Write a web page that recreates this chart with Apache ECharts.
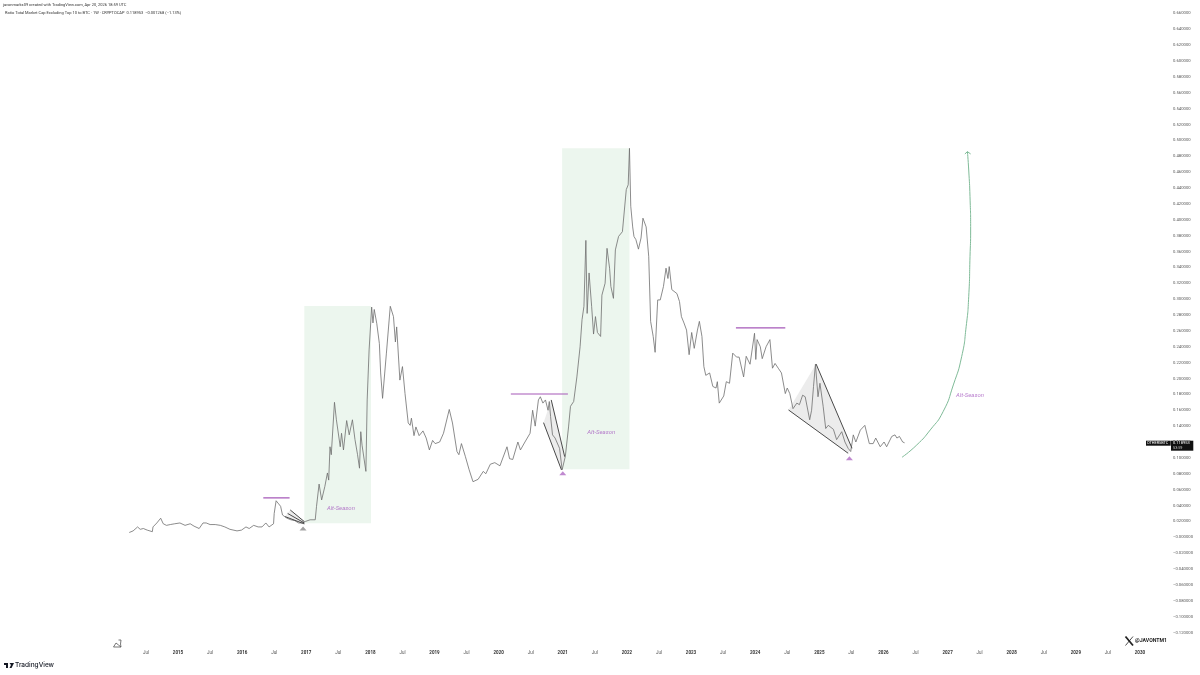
<!DOCTYPE html>
<html>
<head>
<meta charset="utf-8">
<title>Others ratio</title>
<script src="https://cdn.jsdelivr.net/npm/echarts@6/dist/echarts.min.js"></script>
<style>
  html, body { margin: 0; padding: 0; background: #fff; }
  #chart { width: 1200px; height: 675px; }
</style>
</head>
<body>
<div id="chart"></div>
<script>
// weekly ratio (decimal year / value)
const years = [
  2014.24,2014.30,2014.37,2014.41,2014.46,2014.52,2014.60,2014.61,2014.67,2014.73,2014.77,2014.82,2014.88,2014.95,
  2015.03,2015.11,2015.19,2015.25,2015.33,2015.39,2015.44,2015.50,2015.58,2015.66,2015.73,2015.81,2015.92,2015.99,
  2016.06,2016.11,2016.18,2016.25,2016.31,2016.37,2016.42,2016.49,2016.50,2016.53,2016.56,2016.60,2016.63,2016.70,2016.76,2016.82,2016.88,2016.93,2016.99,
  2017.06,2017.14,2017.16,2017.20,2017.24,2017.29,2017.33,2017.35,2017.37,2017.39,2017.44,2017.47,2017.53,2017.55,2017.58,2017.63,2017.67,2017.72,2017.76,2017.80,2017.83,2017.85,2017.87,2017.90,2017.93,2017.95,2017.98,
  2018.02,2018.04,2018.06,2018.10,2018.14,2018.16,2018.19,2018.25,2018.31,2018.36,2018.39,2018.41,2018.46,2018.50,2018.54,2018.59,2018.62,2018.64,2018.68,2018.71,2018.76,2018.82,2018.87,2018.92,2018.97,
  2019.01,2019.08,2019.14,2019.23,2019.28,2019.35,2019.38,2019.42,2019.48,2019.54,2019.57,2019.60,2019.68,2019.76,2019.80,2019.87,2019.94,
  2020.02,2020.13,2020.17,2020.22,2020.30,2020.34,2020.41,2020.49,2020.53,2020.57,2020.62,2020.65,2020.69,2020.73,2020.77,2020.79,2020.81,2020.84,2020.88,2020.95,2020.99,
  2021.04,2021.09,2021.12,2021.17,2021.22,2021.27,2021.30,2021.33,2021.36,2021.38,2021.41,2021.45,2021.48,2021.51,2021.54,2021.59,2021.61,2021.66,2021.69,2021.73,2021.75,2021.79,2021.82,2021.87,2021.93,2021.99,
  2022.02,2022.04,2022.06,2022.09,2022.11,2022.14,2022.18,2022.22,2022.25,2022.30,2022.34,2022.37,2022.41,2022.44,2022.48,2022.52,2022.57,2022.61,2022.64,2022.66,2022.70,2022.78,2022.82,2022.85,2022.89,2022.93,2022.97,
  2023.01,2023.05,2023.10,2023.13,2023.17,2023.20,2023.23,2023.29,2023.34,2023.39,2023.41,2023.44,2023.51,2023.55,2023.60,2023.65,2023.71,2023.75,2023.82,2023.86,2023.89,2023.92,2023.99,
  2024.01,2024.03,2024.08,2024.11,2024.17,2024.23,2024.27,2024.31,2024.36,2024.41,2024.47,2024.50,2024.54,2024.59,2024.62,2024.65,2024.69,2024.74,2024.78,2024.85,2024.88,2024.91,2024.94,2024.98,
  2025.01,2025.06,2025.10,2025.14,2025.22,2025.27,2025.35,2025.40,2025.45,2025.49,2025.53,2025.57,2025.64,2025.71,2025.78,2025.84,2025.88,2025.95,
  2026.01,2026.05,2026.13,2026.18,2026.21,2026.25,2026.30,2026.33
];
const ratio = [
  .006,.008,.013,.010,.011,.009,.007,.013,.018,.024,.017,.015,.016,.017,
  .018,.015,.017,.014,.011,.018,.018,.016,.016,.015,.013,.010,.008,.009,
  .013,.011,.015,.013,.013,.018,.013,.017,.030,.046,.043,.039,.028,.024,.022,.021,.018,.018,.020,
  .022,.022,.039,.067,.047,.064,.081,.072,.114,.104,.170,.148,.114,.131,.110,.147,.129,.148,.123,.104,.087,.133,.116,.116,.083,.173,.236,
  .290,.270,.287,.269,.244,.207,.175,.232,.291,.278,.246,.265,.198,.215,.181,.144,.141,.150,.128,.139,.128,.134,.125,.110,.122,
  .118,.120,.131,.161,.144,.108,.104,.118,.102,.085,.087,.070,.073,.083,.080,.092,.094,
  .090,.114,.099,.098,.120,.110,.120,.131,.160,.140,.173,.177,.169,.173,.160,.171,.152,.129,.125,.112,.085,
  .102,.139,.165,.171,.202,.240,.274,.291,.374,.282,.333,.291,.256,.278,.258,.253,.305,.320,.364,.339,.316,.301,.362,.379,.385,.438,
  .444,.490,.417,.391,.379,.375,.363,.377,.402,.391,.354,.272,.253,.233,.299,.299,.316,.339,.326,.341,.312,.307,.297,.278,.270,.261,.230,
  .258,.238,.261,.272,.253,.215,.204,.207,.190,.188,.196,.169,.178,.196,.194,.232,.227,.227,.202,.228,.230,.218,.257,
  .224,.249,.240,.225,.240,.249,.213,.219,.213,.207,.181,.188,.181,.162,.160,.169,.167,.179,.177,.148,.160,.190,.218,.177,
  .194,.165,.137,.141,.136,.123,.133,.120,.112,.108,.129,.120,.135,.141,.118,.118,.125,.114,
  .120,.114,.127,.129,.125,.127,.120,.119
];

// projected curve and its arrow head
const curveYears = [2026.29,2026.52,2026.73,2026.93,2027.09,2027.22,2027.29,2027.33,2027.35,2027.36,2027.35,2027.33,2027.31];
const curveValues = [.1008,.1163,.1352,.1582,.1919,.2275,.2653,.3031,.3535,.3871,.4291,.4627,.4858];
const arrowYears = [2027.27,2027.31,2027.36];
const arrowValues = [.4829,.4858,.4829];

// shaded seasons [x0, x1, y0, y1]
const seasons = [
  [2016.97, 2018.01, .0176, .2914],
  [2020.99, 2022.04, .0857, .4900]
];
// purple resistance lines [x0, x1, y]
const resist = [
  [2016.33, 2016.74, .0495],
  [2020.19, 2021.08, .1805],
  [2023.70, 2024.47, .2637]
];
// wedge trendlines [x0, y0, x1, y1]
const wedges = [
  [2016.75, .0344, 2016.97, .0197],
  [2016.71, .0300, 2016.97, .0180],
  [2016.67, .0260, 2016.97, .0168],
  [2020.82, .1730, 2021.03, .1015],
  [2020.70, .1444, 2020.98, .0848],
  [2024.95, .2183, 2025.51, .1121],
  [2024.52, .1604, 2025.45, .1058]
];
const wedgeFills = [
  [[2016.75,.0344],[2016.97,.0197],[2016.97,.0168],[2016.67,.0260]],
  [[2020.82,.1730],[2021.03,.1015],[2020.98,.0848],[2020.70,.1444]],
  [[2024.52,.1604],[2024.95,.2183],[2025.51,.1121],[2025.45,.1058]]
];
// markers under the lows
const lows = [[2016.95,.0110,'#8a8a8a'],[2021.00,.0806,'#b06cc4'],[2025.47,.0995,'#b06cc4']];
const seasonLabels = [[2017.54,.0357],[2021.60,.1314],[2027.35,.1780]];

const trendSeries = wedges.map(function (w) {
  return {
    type: 'line', silent: true, symbol: 'none', z: 3,
    lineStyle: { color: '#4a4a4a', width: 1 },
    data: [[w[0], w[1]], [w[2], w[3]]]
  };
});
const resistSeries = resist.map(function (r) {
  return {
    type: 'line', silent: true, symbol: 'none', z: 3,
    lineStyle: { color: '#a558b8', width: 1.2 },
    data: [[r[0], r[2]], [r[1], r[2]]]
  };
});
const fillSeries = wedgeFills.map(function (pts) {
  return {
    type: 'custom', silent: true, z: 1, data: [0],
    renderItem: function (params, api) {
      return {
        type: 'polygon',
        shape: { points: pts.map(function (p) { return api.coord(p); }) },
        style: { fill: '#ececec' }
      };
    }
  };
});

const chart = echarts.init(document.getElementById('chart'), null, { renderer: 'canvas' });
chart.setOption({
  animation: false,
  backgroundColor: '#fff',
  textStyle: { fontFamily: 'Roboto, sans-serif' },
  title: [
    {
      text: 'javonmarks09 created with TradingView.com, Apr 20, 2026 18:59 UTC',
      left: 3, top: 3, padding: 0,
      textStyle: { fontSize: 4, fontWeight: 'normal', color: '#333' }
    },
    {
      text: 'Ratio Total Market Cap Excluding Top 10 to BTC · 1W · CRYPTOCAP  0.118953  −0.001268 (−1.13%)',
      left: 5, top: 11, padding: 0,
      textStyle: { fontSize: 4, fontWeight: 'normal', color: '#333' }
    }
  ],
  grid: { left: -14.39, top: 13.4, width: 1186.4, height: 619.1, outerBoundsMode: 'none' },
  xAxis: {
    type: 'value', min: 2012, max: 2030.5, interval: 0.5,
    axisLine: { show: false }, axisTick: { show: false }, splitLine: { show: false },
    axisLabel: {
      margin: 18, fontSize: 4.5, color: '#555', showMinLabel: true, showMaxLabel: false,
      hideOverlap: false,
      formatter: function (v) {
        if (v < 2014.5) return '';
        return v % 1 === 0 ? '{y|' + v + '}' : 'Jul';
      },
      rich: { y: { fontSize: 4.5, fontWeight: 'bold', color: '#333' } }
    }
  },
  yAxis: {
    type: 'value', position: 'right', min: -0.12, max: 0.66, interval: 0.02,
    axisLine: { show: false }, axisTick: { show: false }, splitLine: { show: false },
    axisLabel: {
      margin: 1, fontSize: 4.2, color: '#555',
      formatter: function (v) {
        const r = Math.round(v * 100) / 100;
        return r <= 0 ? '−' + Math.abs(r).toFixed(6) : r.toFixed(6);
      }
    }
  },
  series: [
    {
      type: 'line', silent: true, symbol: 'none', data: [], z: 0,
      markArea: {
        silent: true,
        itemStyle: { color: '#ecf6ee' },
        data: seasons.map(function (s) {
          return [{ coord: [s[0], s[3]] }, { coord: [s[1], s[2]] }];
        })
      }
    }
  ].concat(fillSeries, [
    {
      type: 'line', silent: true, symbol: 'none', z: 2,
      lineStyle: { color: '#6e6e6e', width: 0.8 },
      data: years.map(function (y, i) { return [y, ratio[i]]; })
    },
    {
      type: 'line', silent: true, symbol: 'none', z: 3, smooth: 0.6,
      lineStyle: { color: '#7fbb98', width: 1 },
      data: curveYears.map(function (y, i) { return [y, curveValues[i]]; })
    },
    {
      type: 'line', silent: true, symbol: 'none', z: 3,
      lineStyle: { color: '#7fbb98', width: 1 },
      data: arrowYears.map(function (y, i) { return [y, arrowValues[i]]; })
    },
    {
      type: 'scatter', silent: true, symbol: 'triangle', symbolSize: [7, 4], z: 3,
      itemStyle: { color: function (p) { return p.data[2]; } },
      data: lows
    },
    {
      type: 'scatter', silent: true, symbolSize: 0, z: 4,
      label: {
        show: true, position: 'inside', formatter: 'Alt-Season',
        fontSize: 6, fontStyle: 'italic', color: '#a65cc0'
      },
      data: seasonLabels
    }
  ], trendSeries, resistSeries),
  graphic: [
    // last price tag
    { type: 'rect', z: 100, shape: { x: 1146, y: 440.7, width: 24.7, height: 5 }, style: { fill: '#111' } },
    { type: 'rect', z: 100, shape: { x: 1171, y: 440.7, width: 22.3, height: 10 }, style: { fill: '#111' } },
    { type: 'text', z: 101, x: 1147, y: 441.2, style: { text: 'OTHERSBTC', fontSize: 3.8, fill: '#fff', fontFamily: 'Roboto' } },
    { type: 'text', z: 101, x: 1173, y: 441.2, style: { text: '0.118953', fontSize: 4, fill: '#fff', fontFamily: 'Roboto' } },
    { type: 'text', z: 101, x: 1173, y: 445.8, style: { text: '53:59', fontSize: 3.8, fill: '#ccc', fontFamily: 'Roboto' } },
    // drawing tool icon
    { type: 'polyline', z: 50, shape: { points: [[113.5, 647], [116, 643], [118.5, 645], [121, 647], [113.5, 647]] }, style: { stroke: '#555', fill: 'none', lineWidth: 0.8 } },
    { type: 'polyline', z: 50, shape: { points: [[118.5, 640], [121, 640], [120.5, 644], [121, 647]] }, style: { stroke: '#555', fill: 'none', lineWidth: 0.8 } },
    // X handle
    { type: 'polyline', z: 50, shape: { points: [[1125.5, 636.5], [1133, 645.5]] }, style: { stroke: '#222', lineWidth: 1.8 } },
    { type: 'polyline', z: 50, shape: { points: [[1133, 636.5], [1125.5, 645.5]] }, style: { stroke: '#222', lineWidth: 0.8 } },
    { type: 'text', z: 50, x: 1135, y: 638, style: { text: '@JAVONTM1', fontSize: 5.2, fontWeight: 'bold', fill: '#222', fontFamily: 'Roboto' } },
    // TradingView mark
    { type: 'polygon', z: 50, shape: { points: [[4, 663], [8, 663], [8, 668], [6, 668], [6, 665], [4, 665]] }, style: { fill: '#131722' } },
    { type: 'polygon', z: 50, shape: { points: [[9.5, 663], [14, 663], [11.5, 668], [9.5, 668], [11, 665]] }, style: { fill: '#131722' } },
    { type: 'text', z: 50, x: 15, y: 662, style: { text: 'TradingView', fontSize: 6.5, fontWeight: 500, fill: '#131722', fontFamily: 'Inter' } }
  ]
});
</script>
</body>
</html>
